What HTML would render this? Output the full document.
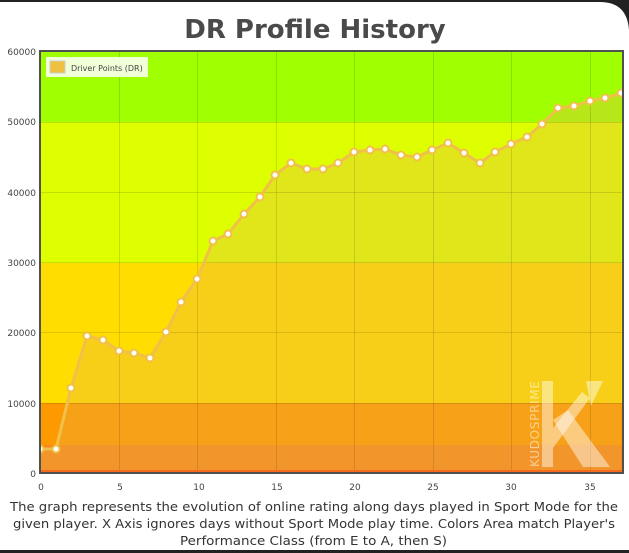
<!DOCTYPE html>
<html><head><meta charset="utf-8"><style>
html,body{margin:0;padding:0;background:#fff;}
body{width:629px;height:553px;overflow:hidden;position:relative;font-family:"DejaVu Sans","Liberation Sans",sans-serif;}
</style></head><body>
<svg width="629" height="553" viewBox="0 0 629 553" xmlns="http://www.w3.org/2000/svg" style="position:absolute;left:0;top:0">
<rect x="0" y="0" width="629" height="553" fill="#fff"/>
<rect x="0" y="0" width="629" height="2" fill="#222"/>
<path d="M600,0 L629,0 L629,30 Q627,2 600,2 Z" fill="#222"/>
<rect x="0" y="550" width="629" height="3" fill="#222"/>
<text x="315" y="38" text-anchor="middle" font-family="DejaVu Sans,sans-serif" font-weight="bold" font-size="26" fill="#4a4a4a">DR Profile History</text>
<defs><clipPath id="pc"><rect x="40" y="51" width="583" height="422"/></clipPath></defs>
<g clip-path="url(#pc)">
<rect x="40" y="51" width="583" height="71" fill="#a0ff00"/>
<rect x="40" y="122" width="583" height="141" fill="#ddff00"/>
<rect x="40" y="263" width="583" height="140" fill="#ffdd00"/>
<rect x="40" y="403" width="583" height="42" fill="#ff9900"/>
<rect x="40" y="445" width="583" height="28" fill="#f8881c"/>
<polygon fill="#e6b44c" fill-opacity="0.33" points="40,473 40,449 56,449 71,388 87,336 103,340 119,351 134,353 150,358 166,332 181,302 197,279 213,241 228,234 244,214 260,197 275,175 291,163 307,169 323,169 338,163 354,152 370,150 385,149 401,155 417,157 432,150 448,143 464,153 480,163 495,152 511,144 527,137 542,124 558,108 574,106 590,101 605,98 621,93 621,473"/>
<g stroke="#000" stroke-opacity="0.12" stroke-width="1">
<line x1="119.5" y1="51" x2="119.5" y2="473"/><line x1="197.5" y1="51" x2="197.5" y2="473"/><line x1="276.5" y1="51" x2="276.5" y2="473"/><line x1="354.5" y1="51" x2="354.5" y2="473"/><line x1="433.5" y1="51" x2="433.5" y2="473"/><line x1="511.5" y1="51" x2="511.5" y2="473"/><line x1="590.5" y1="51" x2="590.5" y2="473"/>
<line x1="40" y1="122.5" x2="623" y2="122.5"/><line x1="40" y1="192.5" x2="623" y2="192.5"/><line x1="40" y1="262.5" x2="623" y2="262.5"/><line x1="40" y1="332.5" x2="623" y2="332.5"/><line x1="40" y1="403.5" x2="623" y2="403.5"/>
</g>
<rect x="40" y="470" width="583" height="3" fill="#f56a1e"/>
<g fill="#fff" fill-opacity="0.45">
<rect x="542" y="381" width="11" height="86"/>
<polygon points="553,428 582,392 590,398 553,448"/>
<polygon points="553,420 568,410 610,467 583,467"/>
<polygon points="586,381 603,381 591,406"/>
</g>
<text transform="translate(539,467) rotate(-90)" font-family="DejaVu Sans,sans-serif" font-size="12" fill="#fff" fill-opacity="0.5" textLength="86">KUDOSPRIME</text>
<polyline fill="none" stroke="#f0c048" stroke-width="3" stroke-linejoin="round" points="40,449 56,449 71,388 87,336 103,340 119,351 134,353 150,358 166,332 181,302 197,279 213,241 228,234 244,214 260,197 275,175 291,163 307,169 323,169 338,163 354,152 370,150 385,149 401,155 417,157 432,150 448,143 464,153 480,163 495,152 511,144 527,137 542,124 558,108 574,106 590,101 605,98 621,93"/>
<g fill="#fff" stroke="#f0c048" stroke-width="2">
<circle cx="40" cy="449" r="3.5"/><circle cx="56" cy="449" r="3.5"/><circle cx="71" cy="388" r="3.5"/><circle cx="87" cy="336" r="3.5"/><circle cx="103" cy="340" r="3.5"/><circle cx="119" cy="351" r="3.5"/><circle cx="134" cy="353" r="3.5"/><circle cx="150" cy="358" r="3.5"/><circle cx="166" cy="332" r="3.5"/><circle cx="181" cy="302" r="3.5"/><circle cx="197" cy="279" r="3.5"/><circle cx="213" cy="241" r="3.5"/><circle cx="228" cy="234" r="3.5"/><circle cx="244" cy="214" r="3.5"/><circle cx="260" cy="197" r="3.5"/><circle cx="275" cy="175" r="3.5"/><circle cx="291" cy="163" r="3.5"/><circle cx="307" cy="169" r="3.5"/><circle cx="323" cy="169" r="3.5"/><circle cx="338" cy="163" r="3.5"/><circle cx="354" cy="152" r="3.5"/><circle cx="370" cy="150" r="3.5"/><circle cx="385" cy="149" r="3.5"/><circle cx="401" cy="155" r="3.5"/><circle cx="417" cy="157" r="3.5"/><circle cx="432" cy="150" r="3.5"/><circle cx="448" cy="143" r="3.5"/><circle cx="464" cy="153" r="3.5"/><circle cx="480" cy="163" r="3.5"/><circle cx="495" cy="152" r="3.5"/><circle cx="511" cy="144" r="3.5"/><circle cx="527" cy="137" r="3.5"/><circle cx="542" cy="124" r="3.5"/><circle cx="558" cy="108" r="3.5"/><circle cx="574" cy="106" r="3.5"/><circle cx="590" cy="101" r="3.5"/><circle cx="605" cy="98" r="3.5"/><circle cx="621" cy="93" r="3.5"/>
</g>
</g>
<rect x="40" y="51" width="583" height="422" fill="none" stroke="#505050" stroke-width="2"/>
<rect x="46" y="57" width="102" height="20" fill="#fff" fill-opacity="0.85"/>
<rect x="50" y="61" width="15" height="12" fill="#f0c040" stroke="#ccc" stroke-width="1"/>
<text x="71" y="71" font-family="DejaVu Sans,sans-serif" font-size="8" fill="#444">Driver Points (DR)</text>
<g font-family="DejaVu Sans,sans-serif" font-size="9" fill="#444" text-anchor="end">
<text x="36" y="55">60000</text><text x="36" y="125">50000</text><text x="36" y="196">40000</text><text x="36" y="266">30000</text><text x="36" y="336">20000</text><text x="36" y="407">10000</text><text x="36" y="477">0</text>
</g>
<g font-family="DejaVu Sans,sans-serif" font-size="9" fill="#444" text-anchor="middle">
<text x="41" y="490">0</text><text x="120" y="490">5</text><text x="199" y="490">10</text><text x="277" y="490">15</text><text x="355" y="490">20</text><text x="433" y="490">25</text><text x="511" y="490">30</text><text x="590" y="490">35</text>
</g>
<g font-family="DejaVu Sans,sans-serif" font-size="12" fill="#333">
<text x="10" y="511" textLength="608" lengthAdjust="spacingAndGlyphs">The graph represents the evolution of online rating along days played in Sport Mode for the</text>
<text x="13" y="528" textLength="602" lengthAdjust="spacingAndGlyphs">given player. X Axis ignores days without Sport Mode play time. Colors Area match Player's</text>
<text x="180" y="545" textLength="267" lengthAdjust="spacingAndGlyphs">Performance Class (from E to A, then S)</text>
</g>
</svg>
</body></html>
